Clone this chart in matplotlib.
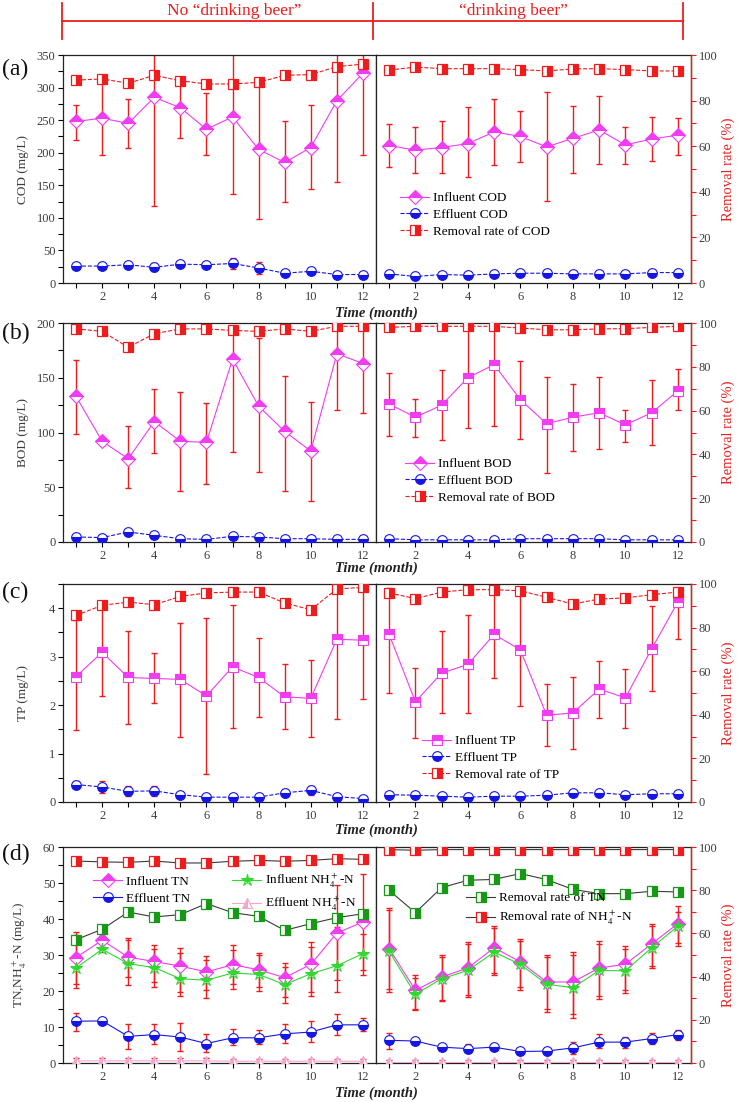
import matplotlib
matplotlib.use('Agg')
import matplotlib.pyplot as plt
from matplotlib.lines import Line2D
from matplotlib.ticker import FixedLocator, MultipleLocator
import numpy as np

plt.rcParams['font.family'] = ['Liberation Serif', 'DejaVu Serif']
plt.rcParams['mathtext.fontset'] = 'stix'

months = [1, 2, 3, 4, 5, 6, 7, 8, 9, 10, 11, 12]

# ---- (a) COD, mg/L ; removal rate % ----
cod_in_no = [248, 253, 245, 285, 269, 236, 255, 205, 185, 208, 280, 322]
cod_in_no_hi = [273, 312, 283, 380, 315, 292, 380, 306, 248, 274, 360, 380]
cod_in_no_lo = [219, 197, 208, 118, 223, 197, 136, 98, 125, 145, 155, 197]
cod_eff_no = [26, 26, 28, 24, 29, 28, 30, 23, 15, 18, 13, 13]
cod_eff_no_err = [5, 5, 4, 6, 4, 4, 8, 9, 4, 4, 3, 3]
cod_rem_no = [89.0, 89.5, 87.6, 91.1, 88.7, 87.3, 87.3, 88.0, 91.1, 91.4, 94.9, 96.0]

cod_in_yes = [211, 204, 208, 214, 232, 225, 209, 222, 235, 212, 221, 227]
cod_in_yes_hi = [244, 240, 248, 270, 283, 264, 293, 271, 287, 240, 255, 254]
cod_in_yes_lo = [178, 169, 169, 163, 181, 185, 126, 169, 183, 182, 188, 197]
cod_eff_yes = [14, 10, 13, 12, 14, 15, 15, 14, 14, 14, 16, 16]
cod_eff_yes_err = [3, 3, 3, 3, 3, 3, 3, 3, 3, 3, 3, 3]
cod_rem_yes = [93.4, 94.7, 94.0, 94.0, 94.0, 93.6, 93.0, 93.9, 94.0, 93.6, 93.0, 93.0]

# ---- (b) BOD ----
bod_in_no = [133, 92, 76, 110, 92, 91, 167, 124, 101, 83, 172, 163]
bod_in_no_hi = [166, 95, 106, 140, 137, 127, 195, 186, 152, 128, 197, 197]
bod_in_no_lo = [99, 89, 49, 81, 47, 53, 82, 64, 47, 37, 121, 118]
bod_eff_no = [4.6, 4.0, 9.2, 6.1, 3.0, 2.4, 5.2, 4.6, 3.0, 3.0, 2.4, 2.4]
bod_eff_no_err = [2, 2, 3, 2, 1.5, 1.5, 2, 2, 1.5, 1.5, 1, 1]
bod_rem_no = [97.3, 96.2, 88.9, 95.1, 97.3, 97.3, 96.6, 96.2, 97.3, 96.2, 98.5, 98.5]

bod_in_yes = [126, 114, 125, 150, 162, 130, 108, 114, 118, 107, 118, 138]
bod_in_yes_hi = [154, 131, 157, 200, 200, 165, 151, 144, 151, 121, 148, 158]
bod_in_yes_lo = [97, 96, 93, 104, 106, 94, 63, 83, 85, 91, 89, 121]
bod_eff_yes = [3, 2, 2, 2, 2, 3, 3, 3, 3, 2, 2, 2]
bod_eff_yes_err = [1, 1, 1, 1, 1, 1, 1.5, 1.5, 1.5, 1, 1, 1]
bod_rem_yes = [98.0, 98.5, 98.5, 98.5, 98.5, 97.7, 96.9, 96.9, 97.3, 97.4, 98.0, 98.5]

# ---- (c) TP ----
tp_in_no = [2.59, 3.09, 2.57, 2.55, 2.53, 2.19, 2.79, 2.57, 2.17, 2.14, 3.36, 3.34]
tp_in_no_hi = [3.76, 4.07, 3.53, 3.08, 3.69, 3.80, 4.06, 3.38, 2.84, 2.94, 4.50, 4.50]
tp_in_no_lo = [1.48, 2.19, 1.60, 2.05, 1.35, 0.57, 1.52, 1.76, 1.50, 1.34, 1.72, 2.13]
tp_eff_no = [0.36, 0.31, 0.22, 0.23, 0.15, 0.10, 0.10, 0.10, 0.19, 0.24, 0.11, 0.07]
tp_eff_no_err = [0.08, 0.12, 0.10, 0.10, 0.06, 0.06, 0.06, 0.05, 0.08, 0.10, 0.06, 0.05]
tp_rem_no = [85.6, 90.2, 91.7, 90.5, 94.3, 95.9, 96.3, 96.3, 91.3, 88.2, 97.7, 98.5]

tp_in_yes = [3.46, 2.07, 2.66, 2.84, 3.46, 3.14, 1.79, 1.84, 2.33, 2.15, 3.16, 4.13]
tp_in_yes_hi = [4.42, 2.76, 3.52, 3.85, 4.40, 4.38, 2.43, 2.57, 2.92, 2.74, 4.04, 4.40]
tp_in_yes_lo = [2.24, 1.33, 1.83, 1.83, 2.55, 1.98, 1.16, 1.09, 1.73, 1.53, 2.30, 3.37]
tp_eff_yes = [0.15, 0.14, 0.12, 0.10, 0.12, 0.12, 0.14, 0.19, 0.19, 0.15, 0.17, 0.17]
tp_eff_yes_err = [0.04, 0.04, 0.04, 0.04, 0.04, 0.04, 0.04, 0.05, 0.05, 0.04, 0.04, 0.04]
tp_rem_yes = [95.9, 93.3, 96.3, 97.4, 97.4, 96.9, 93.9, 90.8, 93.1, 93.6, 95.1, 96.3]

# ---- (d) TN and NH4+-N ----
tn_in_no = [29.3, 34.1, 29.4, 28.2, 26.9, 25.3, 27.3, 25.9, 23.7, 27.4, 36.1, 39.2]
tn_in_no_hi = [36.4, 35.2, 34.8, 32.9, 32.0, 29.6, 32.9, 30.6, 27.9, 33.6, 49.4, 52.4]
tn_in_no_lo = [21.9, 33.0, 23.9, 22.5, 19.7, 20.2, 22.0, 21.1, 18.3, 19.7, 23.0, 25.7]
nh_in_no = [26.4, 31.6, 27.6, 26.5, 23.4, 23.0, 25.0, 24.6, 21.8, 24.8, 27.0, 30.4]
nh_in_no_hi = [35.5, 32.3, 34.1, 31.8, 30.5, 28.5, 31.5, 29.9, 26.7, 32.2, 37.8, 35.9]
nh_in_no_lo = [20.9, 30.8, 21.6, 21.1, 18.5, 18.1, 20.6, 20.0, 16.7, 18.5, 19.7, 24.5]
tn_eff_no = [11.6, 11.7, 7.4, 7.9, 7.2, 5.4, 7.0, 7.0, 8.1, 8.6, 10.6, 10.6]
tn_eff_no_hi = [13.9, 12.3, 10.9, 10.9, 11.2, 8.0, 9.5, 9.3, 10.9, 11.7, 13.7, 12.5]
tn_eff_no_lo = [8.9, 10.7, 4.0, 5.2, 3.3, 3.1, 4.9, 5.4, 5.6, 5.8, 7.7, 8.9]
nh_eff_no = [0.6, 0.6, 0.6, 0.6, 0.6, 0.6, 0.5, 0.5, 0.5, 0.5, 0.5, 0.5]
nh_eff_no_err = [0.8, 0.8, 0.8, 0.8, 0.8, 0.8, 0.7, 0.7, 0.7, 0.7, 0.7, 0.7]
tn_rem_no = [57.1, 61.9, 69.9, 67.6, 68.7, 73.8, 69.6, 67.9, 61.4, 64.5, 67.3, 69.1]
nh_rem_no = [93.5, 93.1, 92.9, 93.5, 92.6, 92.6, 93.4, 93.8, 93.4, 93.8, 94.6, 94.3]

tn_in_yes = [31.8, 20.2, 23.9, 26.4, 32.0, 28.1, 22.5, 22.5, 26.4, 27.4, 33.1, 38.7]
tn_in_yes_hi = [43.1, 24.4, 30.1, 33.6, 38.0, 34.4, 29.9, 30.8, 33.9, 32.4, 38.7, 43.6]
tn_in_yes_lo = [19.7, 14.6, 17.2, 18.3, 24.4, 20.2, 14.2, 12.6, 17.9, 19.5, 26.4, 32.4]
nh_in_yes = [31.0, 19.1, 23.4, 25.7, 30.8, 27.4, 21.9, 20.9, 25.7, 25.6, 32.0, 38.0]
nh_in_yes_hi = [42.5, 23.5, 29.5, 33.0, 37.5, 34.0, 29.5, 30.0, 33.0, 31.8, 38.0, 42.0]
nh_in_yes_lo = [20.5, 15.0, 17.5, 18.8, 25.0, 21.0, 15.0, 13.5, 18.5, 20.2, 27.0, 33.2]
tn_eff_yes = [6.3, 6.1, 4.4, 4.0, 4.4, 3.2, 3.3, 4.2, 5.8, 5.8, 6.8, 7.9]
tn_eff_yes_hi = [8.4, 6.8, 5.2, 5.2, 5.2, 4.0, 4.0, 5.8, 8.0, 7.2, 8.3, 9.3]
tn_eff_yes_lo = [3.8, 5.4, 3.5, 3.1, 3.6, 2.6, 2.7, 2.6, 4.3, 4.3, 5.2, 6.3]
nh_eff_yes = [0.3, 0.3, 0.3, 0.3, 0.3, 0.3, 0.3, 0.3, 0.3, 0.3, 0.3, 0.3]
nh_eff_yes_err = [0.6, 0.6, 0.6, 0.6, 0.6, 0.6, 0.6, 0.6, 0.6, 0.6, 0.6, 0.6]
tn_rem_yes = [79.9, 69.6, 81.2, 84.6, 85.0, 87.7, 84.9, 80.4, 78.4, 78.4, 79.5, 79.2]
nh_rem_yes = [98.8, 98.5, 98.8, 98.8, 98.8, 98.8, 98.8, 98.8, 98.8, 98.8, 98.8, 98.8]

# colours
MAG = '#f23cf2'
BLUE = '#1515e6'
RED = '#ee1c1c'
GREEN = '#169a16'
LGREEN = '#30d830'
PINK = '#f4a6cc'
GRAY = '#3a3a3a'
TXT = '#3c3c3c'

W, H = 738, 1102
fig = plt.figure(figsize=(W / 100, H / 100), dpi=100)

XL, XD, XR = 63, 376, 691


def fx(px):
    return px / W


def fy(py):
    return 1 - py / H


def make_row(top, bot, ymax, ymajor, yminor, ylabel):
    axl = fig.add_axes([fx(XL), fy(bot), fx(XD - XL), (bot - top) / H])
    axr = fig.add_axes([fx(XD), fy(bot), fx(XR - XD), (bot - top) / H])
    tl = axl.twinx()
    tr = axr.twinx()
    for ax in (axl, axr):
        ax.set_xlim(0.5, 12.5)
        ax.set_ylim(0, ymax)
        ax.xaxis.set_major_locator(FixedLocator([2, 4, 6, 8, 10, 12]))
        ax.xaxis.set_minor_locator(FixedLocator([1, 3, 5, 7, 9, 11]))
        ax.tick_params(axis='x', which='both', direction='out', length=3.5,
                       width=0.8, labelsize=9, labelcolor=TXT, pad=2, top=False)
        for s in ax.spines.values():
            s.set_linewidth(0.9)
            s.set_color('#222222')
    axl.yaxis.set_major_locator(MultipleLocator(ymajor))
    axl.yaxis.set_minor_locator(MultipleLocator(yminor))
    axl.tick_params(axis='y', which='both', direction='out', length=3.5,
                    width=0.8, labelsize=9, labelcolor=TXT, pad=2, right=False)
    axl.set_ylabel(ylabel, fontsize=9.5, color=TXT)
    axl.yaxis.set_label_coords((29 - XL) / (XD - XL), 0.5)
    axr.tick_params(axis='y', which='both', left=False, labelleft=False,
                    right=False)
    for t in (tl, tr):
        t.set_ylim(0, 100)
        for s in t.spines.values():
            s.set_visible(False)
    tl.tick_params(axis='y', which='both', right=False, labelright=False)
    tr.spines['right'].set_visible(True)
    tr.spines['right'].set_color(RED)
    tr.spines['right'].set_linewidth(1.0)
    tr.yaxis.set_major_locator(MultipleLocator(20))
    tr.yaxis.set_minor_locator(MultipleLocator(10))
    tr.tick_params(axis='y', which='both', direction='out', length=3.5,
                   width=0.8, color=RED, labelsize=9, labelcolor=TXT, pad=2)
    tr.set_ylabel('Removal rate (%)', fontsize=10.5, color=RED)
    tr.yaxis.set_label_coords((722 - XD) / (XR - XD), 0.5)
    return axl, axr, tl, tr


def err(ax, vals, lo, hi):
    v = np.array(vals)
    yerr = [v - np.array(lo), np.array(hi) - v]
    ax.errorbar(months, vals, yerr=yerr, fmt='none', ecolor=RED,
                elinewidth=1.0, capsize=2.2, capthick=1.0, zorder=2)


def influent(ax, vals, marker, label=None, ms=7):
    return ax.plot(months, vals, color=MAG, lw=0.8, marker=marker, ms=ms,
                   mfc=MAG, mec=MAG, mfcalt='white', fillstyle='top',
                   mew=0.8, label=label, zorder=3)[0]


def effluent(ax, vals, ls='--', label=None):
    return ax.plot(months, vals, color=BLUE, lw=0.8, ls=ls, marker='o', ms=7,
                   mfc=BLUE, mec=BLUE, mfcalt='white', fillstyle='bottom',
                   mew=0.8, label=label, zorder=3)[0]


def removal(ax, vals, mcol=RED, lcol=RED, ls='--', label=None):
    return ax.plot(months, vals, color=lcol, lw=0.8, ls=ls, marker='s', ms=7,
                   mfc=mcol, mec=mcol, mfcalt='white', fillstyle='right',
                   mew=0.9, label=label, zorder=3)[0]


def legend(ax, handles, x, y, **kw):
    ax.legend(handles=handles, loc='upper left', bbox_to_anchor=(fx(x), fy(y)),
              bbox_transform=fig.transFigure, frameon=False, fontsize=9.5,
              borderpad=0, borderaxespad=0, handlelength=2.2,
              handletextpad=0.3, labelspacing=0.35, **kw)


# ---------- (a) ----------
axl, axr, tl, tr = make_row(55, 283, 350, 50, 25, 'COD (mg/L)')
err(axl, cod_in_no, cod_in_no_lo, cod_in_no_hi)
axl.errorbar(months, cod_eff_no, yerr=cod_eff_no_err, fmt='none', ecolor=RED,
             elinewidth=1.0, capsize=2, zorder=2)
influent(axl, cod_in_no, 'D')
effluent(axl, cod_eff_no)
removal(tl, cod_rem_no)
err(axr, cod_in_yes, cod_in_yes_lo, cod_in_yes_hi)
axr.errorbar(months, cod_eff_yes, yerr=cod_eff_yes_err, fmt='none', ecolor=RED,
             elinewidth=1.0, capsize=2, zorder=2)
h1 = influent(axr, cod_in_yes, 'D', 'Influent COD')
h2 = effluent(axr, cod_eff_yes, label='Effluent COD')
h3 = removal(tr, cod_rem_yes, label='Removal rate of COD')
legend(tr, [h1, h2, h3], 400, 192)

# ---------- (b) ----------
axl, axr, tl, tr = make_row(323, 542, 200, 50, 25, 'BOD (mg/L)')
err(axl, bod_in_no, bod_in_no_lo, bod_in_no_hi)
axl.errorbar(months, bod_eff_no, yerr=bod_eff_no_err, fmt='none', ecolor=RED,
             elinewidth=1.0, capsize=2, zorder=2)
h1 = influent(axl, bod_in_no, 'D', 'Influent BOD')
h2 = effluent(axl, bod_eff_no, label='Effluent BOD')
removal(tl, bod_rem_no)
err(axr, bod_in_yes, bod_in_yes_lo, bod_in_yes_hi)
axr.errorbar(months, bod_eff_yes, yerr=bod_eff_yes_err, fmt='none', ecolor=RED,
             elinewidth=1.0, capsize=2, zorder=2)
influent(axr, bod_in_yes, 's')
effluent(axr, bod_eff_yes)
h3 = removal(tr, bod_rem_yes, label='Removal rate of BOD')
legend(tr, [h1, h2, h3], 405, 458)

# ---------- (c) ----------
axl, axr, tl, tr = make_row(584, 802, 4.5, 1, 0.5, 'TP (mg/L)')
err(axl, tp_in_no, tp_in_no_lo, tp_in_no_hi)
axl.errorbar(months, tp_eff_no, yerr=tp_eff_no_err, fmt='none', ecolor=RED,
             elinewidth=1.0, capsize=2, zorder=2)
influent(axl, tp_in_no, 's')
effluent(axl, tp_eff_no)
removal(tl, tp_rem_no)
err(axr, tp_in_yes, tp_in_yes_lo, tp_in_yes_hi)
axr.errorbar(months, tp_eff_yes, yerr=tp_eff_yes_err, fmt='none', ecolor=RED,
             elinewidth=1.0, capsize=2, zorder=2)
h1 = influent(axr, tp_in_yes, 's', 'Influent TP')
h2 = effluent(axr, tp_eff_yes, label='Effluent TP')
h3 = removal(tr, tp_rem_yes, label='Removal rate of TP')
legend(tr, [h1, h2, h3], 422, 735)

# ---------- (d) ----------
axl, axr, tl, tr = make_row(847, 1063, 60, 10, 5, 'TN,NH$_4^+$-N (mg/L)')


def nh_in(ax, vals, label=None):
    return ax.plot(months, vals, color=LGREEN, lw=0.8, marker='*', ms=9,
                   mfc=LGREEN, mec=LGREEN, mfcalt='white', fillstyle='top',
                   mew=0.8, label=label, zorder=3)[0]


def nh_eff(ax, vals, label=None):
    return ax.plot(months, vals, color=PINK, lw=0.8, marker='^', ms=7,
                   mfc=PINK, mec=PINK, mfcalt='white', fillstyle='left',
                   mew=0.8, label=label, zorder=3)[0]


for ax, tw, tin, tinl, tinh, nin, ninl, ninh, te, tel, teh, ne, nee, trn, nrn in (
        (axl, tl, tn_in_no, tn_in_no_lo, tn_in_no_hi, nh_in_no, nh_in_no_lo,
         nh_in_no_hi, tn_eff_no, tn_eff_no_lo, tn_eff_no_hi, nh_eff_no,
         nh_eff_no_err, tn_rem_no, nh_rem_no),
        (axr, tr, tn_in_yes, tn_in_yes_lo, tn_in_yes_hi, nh_in_yes, nh_in_yes_lo,
         nh_in_yes_hi, tn_eff_yes, tn_eff_yes_lo, tn_eff_yes_hi, nh_eff_yes,
         nh_eff_yes_err, tn_rem_yes, nh_rem_yes)):
    err(ax, tin, tinl, tinh)
    err(ax, nin, ninl, ninh)
    err(ax, te, tel, teh)
    ax.errorbar(months, ne, yerr=nee, fmt='none', ecolor=RED,
                elinewidth=1.0, capsize=2, zorder=2)
    g1 = influent(ax, tin, 'D', 'Influent TN')
    g3 = nh_in(ax, nin, 'Influent NH$_4^+$-N')
    g2 = ax.plot(months, te, color=BLUE, lw=0.8, marker='o', ms=7, mfc=BLUE,
                 mec=BLUE, mfcalt='white', fillstyle='bottom', mew=0.8,
                 label='Effluent TN', zorder=3)[0]
    g4 = nh_eff(ax, ne, 'Effluent NH$_4^+$-N')
    r1 = removal(tw, trn, mcol=GREEN, lcol=GRAY, ls='-',
                 label='Removal rate of TN')
    r2 = removal(tw, nrn, mcol=RED, lcol=GRAY, ls='-',
                 label='Removal rate of NH$_4^+$-N')
    if ax is axl:
        legend(tl, [g1, g2, g3, g4], 93, 872, ncol=2, columnspacing=3.2)
    else:
        legend(tr, [r1, r2], 466, 892)

# ---------- shared labels ----------
for ytxt in (313, 568, 830, 1093):
    fig.text(fx(XD), fy(ytxt), 'Time (month)', ha='center', va='center',
             fontsize=10.5, weight='bold', style='italic', color='#222222')

for lab, ytxt in (('(a)', 69), ('(b)', 333), ('(c)', 592), ('(d)', 854)):
    fig.text(fx(2), fy(ytxt), lab, ha='left', va='center', fontsize=17,
             color='#111111')

# top bracket
for xs, ys in (([62, 683], [21, 21]), ([62, 62], [3, 39]),
               ([373, 373], [3, 39]), ([683, 683], [3, 39])):
    fig.add_artist(Line2D([fx(v) for v in xs], [fy(v) for v in ys],
                          color=RED, lw=1.3, transform=fig.transFigure))
fig.text(fx(234), fy(11), 'No \u201cdrinking beer\u201d', ha='center',
         va='center', fontsize=12.5, color=RED)
fig.text(fx(513), fy(11), '\u201cdrinking beer\u201d', ha='center',
         va='center', fontsize=12.5, color=RED)

fig.savefig('out.png', dpi=100)
